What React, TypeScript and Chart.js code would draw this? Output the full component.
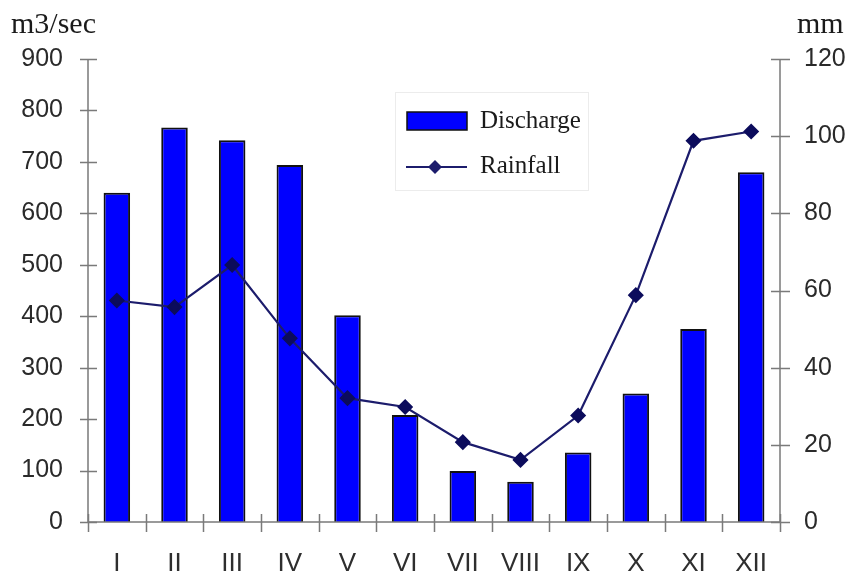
import React, { useEffect, useRef } from "react";
import { Chart, registerables } from "chart.js";

Chart.register(...registerables);

const months = ["I", "II", "III", "IV", "V", "VI", "VII", "VIII", "IX", "X", "XI", "XII"];
const discharge = [640, 767, 742, 694, 402, 208, 99, 78, 135, 250, 375, 680];
const rainfall = [57.4, 55.7, 66.6, 47.6, 32.1, 29.8, 20.7, 16.1, 27.6, 58.8, 98.8, 101.2];
const leftTicksMax = 900;
const rightTicksMax = 120;
const leftTitle = "m3/sec";
const rightTitle = "mm";
const legendLabels = ["Discharge", "Rainfall"];

const BAR_COLOR = "#0000ff";
const LINE_COLOR = "#1c1c6c";
const AXIS_COLOR = "#7a7a7a";

const decorPlugin = {
  id: "decor",
  afterDatasetsDraw(chart: any) {
    const ctx = chart.ctx;
    const { left, right, bottom } = chart.chartArea;
    const y = chart.scales.y;
    const y1 = chart.scales.y1;
    const x = chart.scales.x;
    ctx.save();
    ctx.strokeStyle = AXIS_COLOR;
    ctx.lineWidth = 1.5;
    // axis lines
    ctx.beginPath();
    ctx.moveTo(left, y.top);
    ctx.lineTo(left, bottom);
    ctx.moveTo(right, y1.top);
    ctx.lineTo(right, bottom);
    ctx.moveTo(left, bottom);
    ctx.lineTo(right, bottom);
    ctx.stroke();
    // crossing ticks
    ctx.beginPath();
    y.ticks.forEach((t: any) => {
      const py = Math.round(y.getPixelForValue(t.value)) + 0.5;
      ctx.moveTo(left - 8, py);
      ctx.lineTo(left + 9, py);
    });
    y1.ticks.forEach((t: any) => {
      const py = Math.round(y1.getPixelForValue(t.value)) + 0.5;
      ctx.moveTo(right - 9, py);
      ctx.lineTo(right + 10, py);
    });
    const n = months.length;
    const cw = (x.right - x.left) / n;
    for (let i = 0; i <= n; i++) {
      const px = Math.round(x.left + i * cw) + 0.5;
      ctx.moveTo(px, bottom - 8);
      ctx.lineTo(px, bottom + 10);
    }
    ctx.stroke();

    // unit titles
    ctx.fillStyle = "#1a1a1a";
    ctx.font = "30px 'Liberation Serif', 'Times New Roman', serif";
    ctx.textBaseline = "alphabetic";
    ctx.textAlign = "left";
    ctx.fillText(leftTitle, 11, 33);
    ctx.fillText(rightTitle, 797, 33);

    // legend
    ctx.strokeStyle = "#ececec";
    ctx.lineWidth = 1;
    ctx.strokeRect(395.5, 92.5, 193, 98);
    ctx.fillStyle = BAR_COLOR;
    ctx.fillRect(407, 112, 60, 18);
    ctx.strokeStyle = "#111";
    ctx.lineWidth = 1.5;
    ctx.strokeRect(407, 112, 60, 18);
    ctx.strokeStyle = LINE_COLOR;
    ctx.lineWidth = 2;
    ctx.beginPath();
    ctx.moveTo(406, 167);
    ctx.lineTo(467, 167);
    ctx.stroke();
    ctx.fillStyle = LINE_COLOR;
    ctx.beginPath();
    ctx.moveTo(435, 160);
    ctx.lineTo(442, 167);
    ctx.lineTo(435, 174);
    ctx.lineTo(428, 167);
    ctx.closePath();
    ctx.fill();
    ctx.fillStyle = "#1a1a1a";
    ctx.font = "25px 'Liberation Serif', 'Times New Roman', serif";
    ctx.textBaseline = "middle";
    ctx.fillText(legendLabels[0], 480, 121);
    ctx.fillText(legendLabels[1], 480, 166);
    ctx.restore();
  },
};

export default function App() {
  const ref = useRef<HTMLCanvasElement>(null);
  useEffect(() => {
    document.body.style.margin = "0";
    const chart = new Chart(ref.current!, {
      type: "bar",
      data: {
        labels: months,
        datasets: [
          {
            type: "line",
            label: legendLabels[1],
            data: rainfall,
            yAxisID: "y1",
            borderColor: LINE_COLOR,
            backgroundColor: LINE_COLOR,
            borderWidth: 2.2,
            pointStyle: "rectRot",
            pointRadius: 6.5,
            pointBackgroundColor: "#0c0c5c",
            pointBorderColor: "#0c0c5c",
            tension: 0,
            order: 0,
          },
          {
            type: "bar",
            label: legendLabels[0],
            data: discharge,
            yAxisID: "y",
            backgroundColor: BAR_COLOR,
            borderColor: "#111",
            borderWidth: 2,
            barPercentage: 0.46,
            categoryPercentage: 1,
            order: 1,
          },
        ],
      },
      options: {
        responsive: false,
        animation: false,
        layout: { padding: { top: 59, left: 0, right: 0, bottom: 0 } },
        plugins: { legend: { display: false }, tooltip: { enabled: false } },
        scales: {
          x: {
            grid: { display: false, drawTicks: false },
            border: { display: false },
            ticks: {
              color: "#2e2e2e",
              font: { family: "'Liberation Sans', Arial, sans-serif", size: 26 },
              padding: 26,
              maxRotation: 0,
              autoSkip: false,
            },
            afterFit(scale: any) {
              scale.height = 57;
            },
          },
          y: {
            position: "left",
            min: 0,
            max: leftTicksMax,
            grid: { display: false, drawTicks: false },
            border: { display: false },
            ticks: {
              stepSize: 100,
              color: "#2a2a2a",
              font: { family: "'Liberation Sans', Arial, sans-serif", size: 25 },
              padding: 25,
            },
            afterFit(scale: any) {
              scale.width = 88;
            },
          },
          y1: {
            position: "right",
            min: 0,
            max: rightTicksMax,
            grid: { display: false, drawTicks: false },
            border: { display: false },
            ticks: {
              stepSize: 20,
              color: "#2a2a2a",
              font: { family: "'Liberation Sans', Arial, sans-serif", size: 25 },
              padding: 24,
            },
            afterFit(scale: any) {
              scale.width = 70;
            },
          },
        },
      },
      plugins: [decorPlugin],
    });
    return () => chart.destroy();
  }, []);
  return <canvas ref={ref} width={850} height={579} style={{ display: "block" }} />;
}
